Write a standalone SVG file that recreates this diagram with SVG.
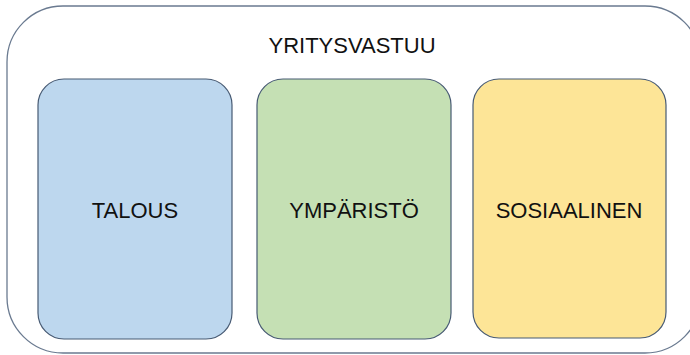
<svg xmlns="http://www.w3.org/2000/svg" width="690" height="355" viewBox="0 0 690 355">
<style>
.box{stroke:#475a73;stroke-width:1.2}
.lbl{font-family:"Liberation Sans",Arial,sans-serif;font-size:22px;fill:#111;text-anchor:middle}
</style>
<rect width="690" height="355" fill="#fff"/>
<g id="yritysvastuu">
<rect x="7" y="6" width="694" height="347" rx="56" ry="56" fill="#fff" stroke="#6a7a90" stroke-width="1.3"/>
<text class="lbl" x="352" y="53">YRITYSVASTUU</text>
</g>
<g id="talous">
<rect class="box" x="38" y="79" width="194" height="260" rx="26" fill="#bdd7ee"/>
<text class="lbl" x="135" y="218">TALOUS</text>
</g>
<g id="ymparisto">
<rect class="box" x="257" y="79" width="194" height="260" rx="26" fill="#c5e0b4"/>
<text class="lbl" x="354" y="218">YMPÄRISTÖ</text>
</g>
<g id="sosiaalinen">
<rect class="box" x="473" y="79" width="193" height="259" rx="26" fill="#fde597"/>
<text class="lbl" x="569" y="218">SOSIAALINEN</text>
</g>
<g id="connectors"/>
</svg>
